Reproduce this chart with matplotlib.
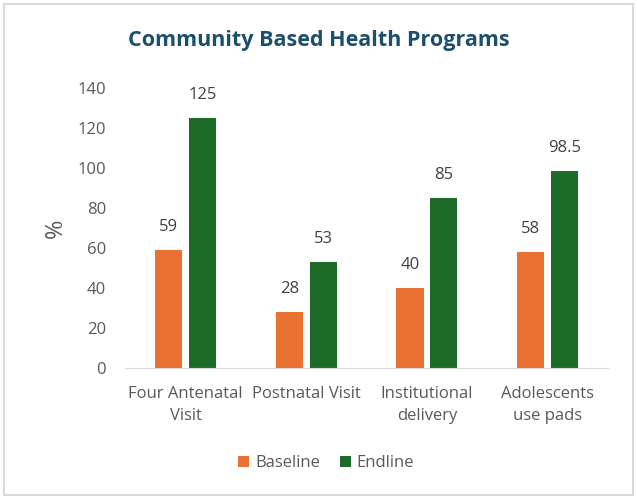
import matplotlib.pyplot as plt
import numpy as np
from matplotlib.patches import Rectangle

# data
categories = ['Four Antenatal\nVisit', 'Postnatal Visit', 'Institutional\ndelivery', 'Adolescents\nuse pads']
baseline = [59, 28, 40, 58]
endline = [125, 53, 85, 98.5]
baseline_labels = ['59', '28', '40', '58']
endline_labels = ['125', '53', '85', '98.5']

plt.rcParams['font.family'] = ['Open Sans', 'DejaVu Sans']
grey = '#595959'
orange = '#E97132'
green = '#1C6B28'

fig = plt.figure(figsize=(6.37, 4.98), dpi=100)
ax = fig.add_axes([0.197, 0.261, 0.757, 0.562])

x = np.arange(len(categories))
width = 0.225
off = 0.14
b1 = ax.bar(x - off, baseline, width, color=orange, label='Baseline')
b2 = ax.bar(x + off, endline, width, color=green, label='Endline')

for bars, labs in ((b1, baseline_labels), (b2, endline_labels)):
    for bar, lab in zip(bars, labs):
        ax.text(bar.get_x() + bar.get_width() / 2, bar.get_height() + 7.5, lab,
                ha='center', va='bottom', fontsize=12, color='#404040')

ax.set_xlim(-0.5, len(categories) - 0.5)
ax.set_ylim(0, 140)
ax.set_yticks(range(0, 141, 20))
ax.set_xticks(x)
ax.set_xticklabels(categories, fontsize=12, color=grey, linespacing=1.5)
ax.tick_params(axis='y', labelsize=12, labelcolor=grey, length=0, pad=14)
ax.tick_params(axis='x', length=0, pad=13)
for s in ['top', 'right', 'left']:
    ax.spines[s].set_visible(False)
ax.spines['bottom'].set_color('#D9D9D9')
ax.set_ylabel('%', fontsize=17, color=grey)
ax.yaxis.set_label_coords(-0.12, 0.5)

fig.text(0.5, 0.918, 'Community Based Health Programs', ha='center', va='center',
         fontsize=15.5, fontweight='bold', color='#1B4F6B')

fig.legend(handles=[b1, b2], loc='center', bbox_to_anchor=(0.512, 0.07), ncol=2,
           frameon=False, fontsize=12, handlelength=0.65, handleheight=0.65,
           handletextpad=0.35, columnspacing=1.2, labelcolor=grey)

fig.patches.append(Rectangle((0.006, 0.006), 0.988, 0.986, transform=fig.transFigure,
                             fill=False, edgecolor='#D9D9D9', linewidth=1.5))

fig.savefig('out.png', dpi=100)
